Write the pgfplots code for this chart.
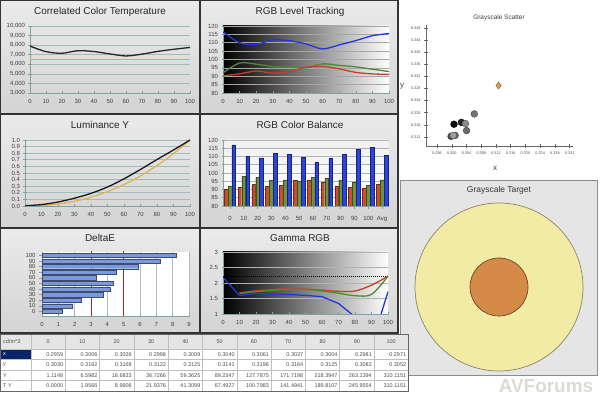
\documentclass[border=0pt]{standalone}
\usepackage{pgfplots}
\pgfplotsset{compat=1.18}
\usepackage{fontspec}
\setmainfont{Liberation Sans}
\newcommand\fsz[1]{\fontsize{#1}{#1}\selectfont}
\definecolor{gridc}{HTML}{9DBDBD}
\definecolor{axc}{HTML}{7FA3A3}
\definecolor{cblue}{HTML}{2236E0}
\definecolor{cgreen}{HTML}{4E8A30}
\definecolor{cred}{HTML}{C4402A}
\definecolor{corange}{HTML}{E6AA36}
\definecolor{lorange}{HTML}{E2B256}
\definecolor{barred}{HTML}{C8502C}
\definecolor{bargreen}{HTML}{6E9440}
\definecolor{barblue}{HTML}{2A44DC}
\definecolor{debar}{HTML}{7C98DC}
\definecolor{deline}{HTML}{A82828}
\definecolor{tyellow}{HTML}{F1EBA6}
\definecolor{torange}{HTML}{D58A48}
\definecolor{navy}{HTML}{0A246A}
\definecolor{gold}{HTML}{D4A53A}
\pgfplotsset{
  dash/.style={scale only axis, anchor=north west, axis lines=left,
    axis line style={-, draw=axc, line width=0.7bp},
    tick style={draw=axc, line width=0.6bp}, tick align=center, major tick length=3bp,
    ymajorgrids, grid style={draw=gridc, line width=0.6bp},
    tick label style={font=\fsz{6}, text=black!75},
    xticklabel style={yshift=-1bp},
    /pgf/number format/assume math mode=true,
    scaled ticks=false, clip=true},
}
\begin{document}
\begin{tikzpicture}
\useasboundingbox (0,0) rectangle (600bp,398bp);
\fill[white] (0,0) rectangle (600bp,398bp);
\begin{scope}[x=1bp,y=-1bp,yshift=398bp]
  \foreach \px/\py/\w/\h in {0/0/200/114, 200/0/198/114, 0/114/200/114, 200/114/198/114, 0/228/200/105, 200/228/198/105}
    {\draw[line width=1.5bp, draw=black!80, top color=black!8, bottom color=black!17] (\px,\py) rectangle ++(\w,\h);}
  \draw[fill=black!10, draw=black!45, line width=0.8bp] (400,180) rectangle (597,375);
  \node[font=\fsz{10}, text=black!85] at (100,12) {Correlated Color Temperature};
  \node[font=\fsz{10}, text=black!85] at (300,12) {RGB Level Tracking};
  \node[font=\fsz{10}, text=black!85] at (100,125) {Luminance Y};
  \node[font=\fsz{10}, text=black!85] at (300,125) {RGB Color Balance};
  \node[font=\fsz{10}, text=black!85] at (100,238) {DeltaE};
  \node[font=\fsz{10}, text=black!85] at (300,238) {Gamma RGB};
  \node[font=\fsz{6.5}, text=black!75] at (499,18) {Grayscale Scatter};
  \node[font=\fsz{8}, text=black!75] at (402,86) {y};
  \node[font=\fsz{8}, text=black!75] at (495,168) {x};
  \node[font=\fsz{8.5}, text=black!80] at (499,190) {Grayscale Target};
\end{scope}

% CCT
\begin{axis}[dash, at={(30bp,372bp)}, width=160bp, height=67bp,
  xmin=0, xmax=100, ymin=3000, ymax=10000,
  xtick={0,10,...,100}, ytick={3000,4000,...,10000},
  /pgf/number format/1000 sep={,}]
\addplot[corange, line width=1.3bp] coordinates {(0,6500)(100,6500)};
\addplot[black!85, line width=1.3bp, smooth] coordinates {(0,7900)(10,7320)(20,7150)(30,7420)(40,7330)(50,7080)(60,6870)(70,7060)(80,7350)(90,7570)(100,7760)};
\end{axis}

% RGB Level Tracking
\begin{axis}[dash, at={(223bp,372bp)}, width=166bp, height=67bp,
  xmin=0, xmax=100, ymin=80, ymax=120,
  xtick={0,10,...,100}, ytick={80,85,...,120},
  grid style={draw=black!35, line width=0.5bp},
  axis background/.style={left color=black, middle color=black!45, right color=white}]
\addplot[cblue, line width=1.3bp, smooth] coordinates {(0,116.5)(10,110)(20,109)(30,111.7)(40,111.2)(50,109.3)(60,106.3)(70,108.7)(80,111.3)(90,114.2)(100,115.5)};
\addplot[cgreen, line width=1.3bp, smooth] coordinates {(0,92)(10,97.9)(20,97.2)(30,95.8)(40,95.4)(50,95)(60,97.4)(70,96.5)(80,95.6)(90,94.2)(100,92.8)};
\addplot[cred, line width=1.3bp, smooth] coordinates {(0,90.3)(10,91.4)(20,93.1)(30,91.9)(40,92.7)(50,95.4)(60,95.8)(70,94.4)(80,92.3)(90,91.4)(100,91.1)};
\end{axis}

% Luminance Y
\begin{axis}[dash, at={(25bp,258bp)}, width=165bp, height=66bp,
  xmin=0, xmax=100, ymin=0, ymax=1,
  xtick={0,10,...,100}, ytick={0,0.1,0.2,0.3,0.4,0.5,0.6,0.7,0.8,0.9,1.0},
  yticklabel style={/pgf/number format/.cd, fixed, precision=1, zerofill}]
\addplot[lorange, line width=1.3bp, smooth] coordinates {(0,0)(10,0.0063)(20,0.0290)(30,0.0707)(40,0.1332)(50,0.2176)(60,0.3250)(70,0.4563)(80,0.6121)(90,0.7931)(100,1.0)};
\addplot[black!90, line width=1.3bp, smooth] coordinates {(0,0.0036)(10,0.0213)(20,0.0602)(30,0.1184)(40,0.1914)(50,0.2877)(60,0.4121)(70,0.5537)(80,0.7042)(90,0.8485)(100,1.0)};
\end{axis}

% RGB Color Balance
\begin{axis}[dash, at={(223bp,258bp)}, width=166bp, height=66bp,
  xmin=-0.5, xmax=11.5, ymin=80, ymax=120,
  xtick={0,...,11}, xticklabels={0,10,20,30,40,50,60,70,80,90,100,Avg},
  ytick={80,85,...,120}, ybar=0.2bp, bar width=3.7bp,
  grid style={draw=black!30, line width=0.5bp},
  xticklabel style={yshift=-3bp},
  axis background/.style={top color=black!6, bottom color=white}]
\addplot[fill=barred, draw=barred!55!black, line width=0.4bp] coordinates {(0,90.2)(1,91.4)(2,93)(3,91.8)(4,92.6)(5,95.4)(6,95.6)(7,94.4)(8,92.2)(9,91.4)(10,91)(11,93)};
\addplot[fill=bargreen, draw=bargreen!55!black, line width=0.4bp] coordinates {(0,92)(1,98.1)(2,97.3)(3,95.8)(4,95.6)(5,95)(6,97.5)(7,96.6)(8,95.7)(9,94.2)(10,92.6)(11,95.8)};
\addplot[fill=barblue, draw=barblue!55!black, line width=0.4bp] coordinates {(0,117)(1,110)(2,109.2)(3,111.7)(4,111.3)(5,109.4)(6,106.3)(7,108.8)(8,111.3)(9,114.4)(10,115.5)(11,110.8)};
\end{axis}

% DeltaE
\begin{axis}[dash, at={(42bp,146bp)}, width=147bp, height=64bp,
  xmin=0, xmax=9, ymin=-0.8, ymax=10.6,
  xtick={0,...,9}, ytick={0,...,10}, yticklabels={0,10,20,30,40,50,60,70,80,90,100},
  ymajorgrids=false, xmajorgrids, grid style={draw=black!25!cyan!30!gray!60, line width=0.6bp},
  xbar, bar width=4.3bp,
  axis background/.style={fill=white}]
\addplot[sharp plot, deline, line width=0.8bp] coordinates {(3,-1)(3,11)};
\addplot[sharp plot, deline, line width=0.8bp] coordinates {(5,-1)(5,11)};
\addplot[fill=debar, draw=debar!50!black, line width=0.4bp] coordinates {(1.22,0)(1.87,1)(2.38,2)(3.77,3)(4.18,4)(4.34,5)(3.30,6)(4.52,7)(5.87,8)(7.23,9)(8.19,10)};
\end{axis}

% Gamma RGB
\begin{axis}[dash, at={(223bp,146bp)}, width=165bp, height=62bp,
  xmin=0, xmax=100, ymin=1, ymax=3,
  xtick={0,10,...,100}, ytick={1,1.5,2,2.5,3},
  grid style={draw=black!30, line width=0.5bp},
  axis background/.style={left color=black, middle color=black!40, right color=white}]
\addplot[black, densely dotted, line width=1bp] coordinates {(0,2.2)(100,2.2)};
\addplot[cred, line width=1.3bp, smooth] coordinates {(10,1.68)(20,1.75)(30,1.79)(40,1.82)(50,1.8)(60,1.77)(70,1.73)(80,1.74)(90,1.93)(100,2.22)};
\addplot[cgreen, line width=1.3bp, smooth] coordinates {(10,1.66)(20,1.72)(30,1.76)(40,1.8)(50,1.79)(60,1.74)(70,1.67)(80,1.59)(90,1.63)(100,2.22)};
\addplot[cblue, line width=1.3bp] coordinates {(0,2.18)(10,1.6)(20,1.66)(30,1.64)(40,1.63)(50,1.6)(60,1.56)(70,1.34)(80,0.91)(90,0.0)(100,1.72)};
\end{axis}

% Grayscale Scatter
\begin{axis}[scale only axis, anchor=north west, at={(426bp,373bp)}, width=147bp, height=121bp,
  xmin=0.293, xmax=0.3329, ymin=0.309, ymax=0.349,
  axis lines=left, axis line style={-, draw=black!60, line width=0.6bp},
  tick style={draw=black!60, line width=0.5bp}, tick align=center, major tick length=4bp,
  xtick={0.296,0.300,0.304,0.308,0.312,0.316,0.320,0.324,0.328,0.332},
  ytick={0.312,0.316,0.320,0.324,0.328,0.332,0.336,0.340,0.344,0.348},
  tick label style={font=\fsz{3.8}, text=black!70, /pgf/number format/.cd, fixed, precision=3, zerofill, assume math mode=true},
  scaled ticks=false, clip=true]
\addplot[only marks, mark=*, mark size=3.4bp, mark options={fill=black!95, draw=black}] coordinates {(0.3006,0.3162)};
\addplot[only marks, mark=*, mark size=3.4bp, mark options={fill=black!85, draw=black}] coordinates {(0.3026,0.3168)};
\addplot[only marks, mark=*, mark size=3.4bp, mark options={fill=black!70, draw=black!80}] coordinates {(0.2998,0.3122)};
\addplot[only marks, mark=*, mark size=3.4bp, mark options={fill=black!62, draw=black!80}] coordinates {(0.3009,0.3125)};
\addplot[only marks, mark=*, mark size=3.4bp, mark options={fill=black!58, draw=black!75}] coordinates {(0.3040,0.3141)};
\addplot[only marks, mark=*, mark size=3.4bp, mark options={fill=black!55, draw=black!75}] coordinates {(0.3061,0.3196)};
\addplot[only marks, mark=*, mark size=3.4bp, mark options={fill=black!45, draw=black!70}] coordinates {(0.3037,0.3164)};
\addplot[only marks, mark=*, mark size=3.4bp, mark options={fill=black!38, draw=black!65}] coordinates {(0.3004,0.3125)};
\addplot[only marks, mark=diamond*, mark size=3.6bp, mark options={fill=gold, draw=gold!60!black}] coordinates {(0.3127,0.3290)};
\end{axis}

% Grayscale Target
\begin{axis}[scale only axis, anchor=north west, at={(415bp,195bp)}, width=168bp, height=168bp,
  xmin=-1, xmax=1, ymin=-1, ymax=1, hide axis, clip=false]
\addplot[only marks, mark=*, mark size=84bp, mark options={fill=tyellow, draw=black!55!yellow!60!gray, line width=0.7bp}] coordinates {(0,0)};
\addplot[only marks, mark=*, mark size=29bp, mark options={fill=torange, draw=torange!50!black, line width=0.7bp}] coordinates {(0,0)};
\end{axis}

% Table
\begin{scope}[x=1bp,y=-1bp,yshift=398bp]
  \fill[black!10] (0,334) rectangle (408,349);
  \fill[white] (0,349) rectangle (408,391);
  \fill[navy] (0,349) rectangle (31,359.5);
  \foreach \yy in {349,359.5,370,380.5} {\draw[black!25, line width=0.5bp] (0,\yy) -- (408,\yy);}
  \foreach \i in {1,...,11} {\draw[black!25, line width=0.5bp] ({31+34.3*(\i-1)},334) -- ({31+34.3*(\i-1)},391);}
  \draw[black!60, line width=0.8bp] (0,334) rectangle (408,391);
  \begin{scope}[every node/.style={font=\fsz{5.5}, text=black!70, inner sep=0pt}]
  \node[anchor=west] at (3,341.5) {cd/m\textasciicircum 2};
  \node[anchor=west, text=white] at (3,354.2) {x};
  \node[anchor=west] at (3,364.7) {y};
  \node[anchor=west] at (3,375.2) {Y};
  \node[anchor=west] at (3,385.7) {T Y};
  \foreach \v [count=\i from 0] in {0,10,20,30,40,50,60,70,80,90,100}
    {\node at ({31+34.3*(\i+0.5)},341.5) {\v};}
  \foreach \v [count=\i from 1] in {0.2959,0.3006,0.3026,0.2998,0.3009,0.3040,0.3061,0.3037,0.3004,0.2981,0.2971}
    {\node[anchor=east] at ({31+34.3*\i-2},354.2) {\v};}
  \foreach \v [count=\i from 1] in {0.3030,0.3162,0.3168,0.3122,0.3125,0.3141,0.3196,0.3164,0.3125,0.3082,0.3052}
    {\node[anchor=east] at ({31+34.3*\i-2},364.7) {\v};}
  \foreach \v [count=\i from 1] in {1.1148,6.5982,18.6833,36.7266,59.3625,89.2347,127.7875,171.7198,218.3947,263.1394,310.1151}
    {\node[anchor=east] at ({31+34.3*\i-2},375.2) {\v};}
  \foreach \v [count=\i from 1] in {0.0000,1.9566,8.9906,21.9376,41.3099,67.4927,100.7983,141.4941,189.8107,245.9554,310.1151}
    {\node[anchor=east] at ({31+34.3*\i-2},385.7) {\v};}
  \end{scope}
  \node[font=\bfseries\fsz{19}, text=black!12!yellow!8!gray!35] at (546,386) {AVForums};
\end{scope}
\end{tikzpicture}
\end{document}
